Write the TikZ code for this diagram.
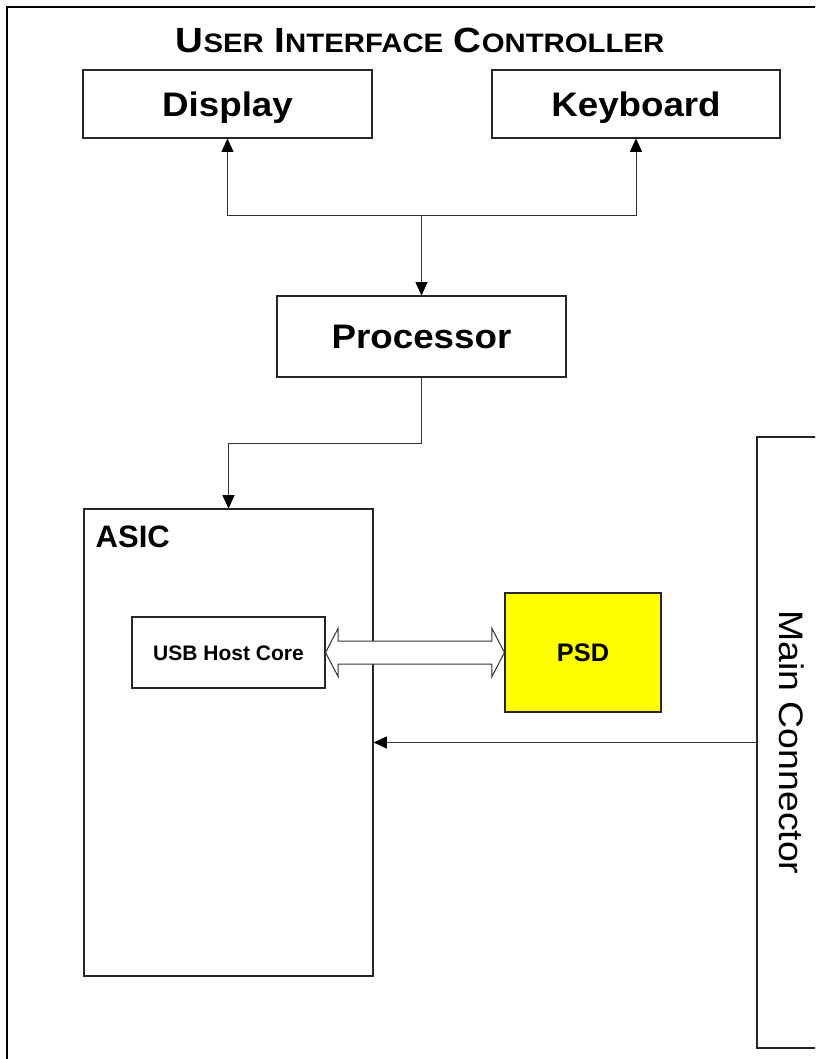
\documentclass[tikz,border=0pt]{standalone}
\usepackage{fontspec}
\usepackage{graphicx}
\setmainfont{Liberation Sans}
\usetikzlibrary{arrows.meta,calc}
\newcommand\tcBig[1]{{\fontsize{26.25pt}{30pt}\selectfont #1}}
\newcommand\tcSm[1]{{\fontsize{20pt}{24pt}\selectfont #1}}
\begin{document}
\begin{tikzpicture}[x=0.75pt,y=-0.75pt,
  box/.style={draw=black!85, line width=0.8pt, inner sep=0pt, align=center},
  con/.style={draw=black!80, line width=0.75pt},
  arr/.style={con, -{Triangle[length=10pt,width=9pt,color=black]}},
  biglbl/.style={font=\bfseries\fontsize{25.5pt}{30pt}\selectfont, text height=18.3pt, text depth=0pt},
  usblbl/.style={font=\bfseries\fontsize{15.75pt}{19pt}\selectfont, text height=11.3pt, text depth=0pt},
  psdlbl/.style={font=\bfseries\fontsize{19pt}{23pt}\selectfont, text height=13.6pt, text depth=0pt},
  mainlbl/.style={font=\fontsize{25.5pt}{30pt}\selectfont, text height=18.3pt, text depth=0pt}
]
\useasboundingbox (0,0) rectangle (815,1059);
\clip (0,0) rectangle (815,1059);
\fill[white] (0,0) rectangle (815,1059);

% outer frame
\draw[line width=1.5pt] (7,1070) -- (7,7) -- (830,7);

% title
\node[font=\bfseries\fontsize{26.25pt}{30pt}\selectfont, text height=18.8pt, text depth=0pt, inner sep=0pt] (title) at (420,40)
  {\scalebox{1.1}[1]{\tcBig{U}\tcSm{SER} \tcBig{I}\tcSm{NTERFACE} \tcBig{C}\tcSm{ONTROLLER}}};

% boxes
\node[box, biglbl, minimum width=216.75pt, minimum height=51pt] (disp) at (227.5,104) {\scalebox{1.08}[1]{Display}};
\node[box, biglbl, minimum width=216pt, minimum height=51pt] (kbd) at (636,104) {\scalebox{1.08}[1]{Keyboard}};
\node[box, biglbl, minimum width=216.75pt, minimum height=60.75pt] (proc) at (421.5,336.5) {\scalebox{1.08}[1]{Processor}};
\node[box, minimum width=216.75pt, minimum height=350.25pt] (asic) at (228.5,742.5) {};
\node[font=\bfseries\fontsize{23.25pt}{28pt}\selectfont, anchor=base west, inner sep=0pt] (asiclbl) at ($(asic.north west)+(12,39)$) {ASIC};
\node[box, usblbl, fill=white, minimum width=144.75pt, minimum height=53.25pt] (usb) at (228.5,652.5) {USB Host Core};
\node[box, psdlbl, fill={rgb,255:red,255;green,255;blue,0}, minimum width=117pt, minimum height=89.25pt] (psd) at (583,652.5) {PSD};
\node[box, mainlbl, rotate=-90, minimum width=458.25pt, minimum height=52.5pt] (main) at (792,742.5) {\scalebox{1.1}[1]{Main Connector}};

% connectors
\coordinate (j) at ($(proc.north)+(0,-80)$);
\draw[arr] (j) -| (disp.south);
\draw[arr] (j) -| (kbd.south);
\draw[arr] (j) -- (proc.north);
\draw[arr] (proc.south) -- ++(0,66) -| (asic.north);
\draw[arr] (main.south) -- (asic.east);

% double (bus) arrow
\coordinate (a1) at (usb.east);
\coordinate (a2) at (psd.west);
\draw[con, fill=white] (a1) -- ($(a1)+(12.5,-24)$) -- ($(a1)+(12.5,-11.5)$) -- ($(a2)+(-12.5,-11.5)$)
  -- ($(a2)+(-12.5,-24)$) -- (a2) -- ($(a2)+(-12.5,24)$) -- ($(a2)+(-12.5,11.5)$)
  -- ($(a1)+(12.5,11.5)$) -- ($(a1)+(12.5,24)$) -- cycle;
\end{tikzpicture}
\end{document}
